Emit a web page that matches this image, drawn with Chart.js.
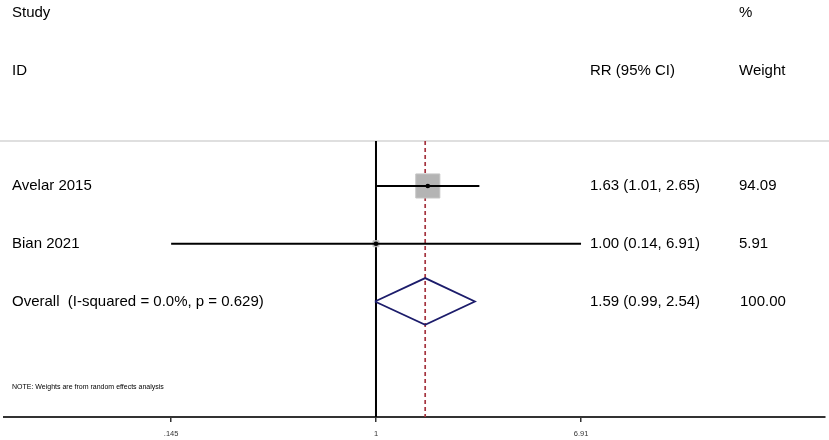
<!DOCTYPE html>
<html>
<head>
<meta charset="utf-8">
<title>Forest plot</title>
<script src="https://cdn.jsdelivr.net/npm/chart.js@4/dist/chart.umd.min.js"></script>
<style>
  html, body { margin: 0; padding: 0; background: #fff; }
  #wrap { width: 829px; height: 440px; }
</style>
</head>
<body>
<div id="wrap"><canvas id="forest"></canvas></div>
<script>
// study data
const studies = ["Avelar 2015", "Bian 2021"];
const rr = [1.63, 1.00];
const lower = [1.01, 0.145];
const upper = [2.65, 6.91];
const weights = [94.09, 5.91];
const ciText = ["1.63 (1.01, 2.65)", "1.00 (0.14, 6.91)"];
const weightText = ["94.09", "5.91"];

// pooled estimate
const overallLabel = "Overall  (I-squared = 0.0%, p = 0.629)";
const overallRR = 1.59;
const overallLower = 0.99;
const overallUpper = 2.54;
const overallText = "1.59 (0.99, 2.54)";
const overallWeight = "100.00";

// x axis
const xTicks = [0.145, 1, 6.91];
const xTickLabels = [".145", "1", "6.91"];

/* =========================
   ROW LAYOUT
========================= */
const studyRows = studies.map((s, i) => i + 1);
const overallRow = studies.length + 1;
const topRow = -2.22;
const bottomRow = overallRow + 2;
const sepRow = 0.22;
const diamondHalf = 0.405;
const maxBox = 17; // radius of the heaviest box

const FONT = "'Liberation Sans', Arial, sans-serif";

/* =========================
   DATASETS
========================= */
const datasets = [];

// dashed line at pooled estimate
datasets.push({
  type: "line",
  data: [{ x: overallRR, y: sepRow }, { x: overallRR, y: bottomRow }],
  borderColor: "#a5343f",
  borderWidth: 1.7,
  borderDash: [4, 3],
  pointRadius: 0,
  order: 6
});

// null line
datasets.push({
  type: "line",
  data: [{ x: 1, y: sepRow }, { x: 1, y: bottomRow }],
  borderColor: "#000",
  borderWidth: 2,
  pointRadius: 0,
  order: 5
});

// weight boxes
const wMax = Math.max(...weights);
datasets.push({
  type: "scatter",
  data: rr.map((v, i) => ({ x: v, y: studyRows[i] })),
  pointStyle: "rect",
  pointRadius: weights.map(w => Math.max(2.8, maxBox * Math.sqrt(w / wMax))),
  backgroundColor: "#b4b4b4",
  borderColor: "#c4c4c4",
  borderWidth: 1,
  order: 4
});

// confidence intervals
studies.forEach((s, i) => {
  datasets.push({
    type: "line",
    data: [{ x: lower[i], y: studyRows[i] }, { x: upper[i], y: studyRows[i] }],
    borderColor: "#000",
    borderWidth: 2,
    pointRadius: 0,
    order: 3
  });
});

// pooled diamond
datasets.push({
  type: "line",
  data: [
    { x: overallLower, y: overallRow },
    { x: overallRR, y: overallRow - diamondHalf },
    { x: overallUpper, y: overallRow },
    { x: overallRR, y: overallRow + diamondHalf },
    { x: overallLower, y: overallRow }
  ],
  borderColor: "#1c1c6b",
  borderWidth: 1.8,
  pointRadius: 0,
  fill: false,
  order: 2
});

// point estimates
datasets.push({
  type: "scatter",
  data: rr.map((v, i) => ({ x: v, y: studyRows[i] })),
  pointStyle: "circle",
  pointRadius: 2.3,
  backgroundColor: "#000",
  borderWidth: 0,
  order: 1
});

/* =========================
   TEXT COLUMNS
========================= */
const textPlugin = {
  id: "forestText",
  beforeDatasetsDraw(chart) {
    const { ctx, scales: { y } } = chart;
    const ys = y.getPixelForValue(sepRow);
    ctx.save();
    ctx.strokeStyle = "#d4d4d4";
    ctx.lineWidth = 1.5;
    ctx.beginPath();
    ctx.moveTo(0, ys);
    ctx.lineTo(chart.width, ys);
    ctx.stroke();
    ctx.restore();
  },
  afterDatasetsDraw(chart) {
    const { ctx, scales: { y } } = chart;
    const col1 = 12, col2 = 590, col3 = 739;
    ctx.save();
    ctx.fillStyle = "#000";
    ctx.textBaseline = "middle";
    ctx.textAlign = "left";
    ctx.font = "15px " + FONT;

    const yStudy = y.getPixelForValue(-2);
    const yId = y.getPixelForValue(-1);
    ctx.fillText("Study", col1, yStudy);
    ctx.fillText("%", col3, yStudy);
    ctx.fillText("ID", col1, yId);
    ctx.fillText("RR (95% CI)", col2, yId);
    ctx.fillText("Weight", col3, yId);

    studies.forEach((s, i) => {
      const py = y.getPixelForValue(studyRows[i]);
      ctx.fillText(s, col1, py);
      ctx.fillText(ciText[i], col2, py);
      ctx.fillText(weightText[i], col3, py);
    });

    const po = y.getPixelForValue(overallRow);
    ctx.fillText(overallLabel, col1, po);
    ctx.fillText(overallText, col2, po);
    ctx.fillText(overallWeight, col3 + 1, po);

    ctx.font = "7px " + FONT;
    ctx.fillText("NOTE: Weights are from random effects analysis", col1, y.getPixelForValue(overallRow + 1.48));
    ctx.restore();
  }
};

new Chart(document.getElementById("forest"), {
  type: "scatter",
  data: { datasets },
  options: {
    responsive: true,
    maintainAspectRatio: false,
    animation: false,
    layout: { autoPadding: false, padding: { left: 4, right: 4, top: 0, bottom: 0 } },
    plugins: {
      legend: { display: false },
      tooltip: { enabled: false }
    },
    scales: {
      x: {
        type: "logarithmic",
        position: "bottom",
        min: 0.030,
        max: 68.9,
        bounds: "data",
        afterBuildTicks: scale => {
          scale.ticks = xTicks.map(v => ({ value: v }));
        },
        afterFit: scale => { scale.height = 23; },
        grid: {
          display: true,
          drawOnChartArea: false,
          drawTicks: true,
          tickLength: 5,
          color: "#333",
          lineWidth: 1.5
        },
        border: { display: true, color: "#333", width: 2 },
        ticks: {
          autoSkip: false,
          maxRotation: 0,
          padding: 7,
          color: "#333",
          font: { family: FONT, size: 7.5 },
          callback: (value) => {
            const k = xTicks.indexOf(value);
            return k >= 0 ? xTickLabels[k] : "";
          }
        }
      },
      y: {
        type: "linear",
        display: false,
        reverse: true,
        min: topRow,
        max: bottomRow,
        bounds: "data"
      }
    }
  },
  plugins: [textPlugin]
});
</script>
</body>
</html>
